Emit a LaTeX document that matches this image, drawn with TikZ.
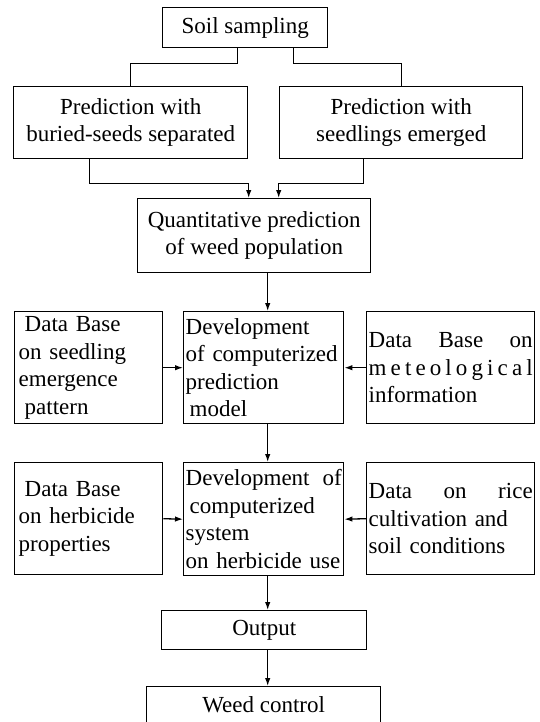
\documentclass[tikz,border=0pt]{standalone}
\usepackage{fontspec}
\setmainfont{Liberation Serif}
\usetikzlibrary{arrows.meta}
\begin{document}
\begin{tikzpicture}[x=1pt,y=1pt,
  box/.style={draw, line width=1.4pt, anchor=north west, inner sep=5pt,
    font=\fontsize{23}{27.5}\selectfont},
  tall/.style={inner xsep=2pt, inner ysep=0pt, align=left},
  link/.style={line width=1.3pt},
  arr/.style={link, -{Latex[length=8pt,width=5.5pt]}}]
\clip (0,0) rectangle (539,-722);
\fill[white] (0,0) rectangle (539,-722);

% top stage
\node[box, minimum width=165pt, minimum height=40pt] (soil) at (162,-7) {Soil sampling};
\node[box, minimum width=234pt, minimum height=72pt, align=center, inner sep=2pt] (predL) at (13,-86)
  {Prediction with\\buried-seeds separated};
\node[box, minimum width=243pt, minimum height=72pt, align=center, inner sep=2pt] (predR) at (279,-86)
  {Prediction with\\seedlings emerged};
\node[box, minimum width=233pt, minimum height=74pt, align=center, inner sep=2pt] (quant) at (137,-198)
  {Quantitative prediction\\of weed population};

% prediction model stage
\node[box, tall, minimum width=148pt, minimum height=112pt, text width=140pt, inner xsep=4pt] (dbSeed) at (14,-311)
  {\hspace*{6pt}Data Base\\on seedling\\emergence\\\hspace*{6pt}pattern};
\node[box, tall, minimum width=160pt, minimum height=112pt, text width=156pt] (devM) at (183,-311)
  {Development\\\mbox{of computerized}\\prediction\\\hspace*{4pt}model};
\node[box, tall, minimum width=168pt, minimum height=112pt, text width=164pt] (dbMet) at (366,-311)
  {\makebox[164pt][s]{Data\hfill Base\hfill on}\\
   \makebox[164pt][s]{m\hfill e\hfill t\hfill e\hfill o\hfill l\hfill o\hfill g\hfill i\hfill c\hfill a\hfill l}\\
   information};

% herbicide use stage
\node[box, tall, minimum width=148pt, minimum height=112pt, text width=140pt, inner xsep=4pt] (dbHerb) at (14,-462)
  {\hspace*{6pt}Data Base\\on herbicide\\properties};
\node[box, tall, minimum width=160pt, minimum height=113pt, text width=156pt] (devS) at (183,-462)
  {\makebox[156pt][s]{Development\hfill of}\\\hspace*{4pt}computerized\\system\\\mbox{on herbicide use}};
\node[box, tall, minimum width=168pt, minimum height=112pt, text width=164pt] (dataRice) at (366,-462)
  {\makebox[164pt][s]{Data\hfill on\hfill rice}\\
   \makebox[164pt][s]{cultivation and}\\
   \makebox[164pt][s]{soil conditions}};

% final stage
\node[box, minimum width=205pt, minimum height=39pt] (output) at (161,-610) {Output};
\node[box, minimum width=234pt, minimum height=72pt, text depth=36pt] (weed) at (146,-686) {Weed control};

% connectors
\draw[link] ([xshift=-7.5pt]soil.south) -- ++(0,-15) -| (predL.north);
\draw[link] ([xshift=48.5pt]soil.south) -- ++(0,-15) -| (predR.north);
\draw[arr] ([xshift=-41pt]predL.south) -- ++(0,-24) -| ([xshift=-5.5pt]quant.north);
\draw[arr] ([xshift=-37.5pt]predR.south) -- ++(0,-24) -| ([xshift=24.5pt]quant.north);
\draw[arr] ([xshift=13.5pt]quant.south) -- ([xshift=4pt]devM.north);
\draw[arr] (dbSeed.east) -- (devM.west);
\draw[arr] (dbMet.west) -- (devM.east);
\draw[arr] ([xshift=4pt]devM.south) -- ([xshift=4pt]devS.north);
\draw[arr] (dbHerb.east) -- (devS.west);
\draw[arr] (dataRice.west) -- (devS.east);
\draw[arr] ([xshift=4pt]devS.south) -- ([xshift=3.5pt]output.north);
\draw[arr] ([xshift=3.5pt]output.south) -- ([xshift=4pt]weed.north);
\end{tikzpicture}
\end{document}
